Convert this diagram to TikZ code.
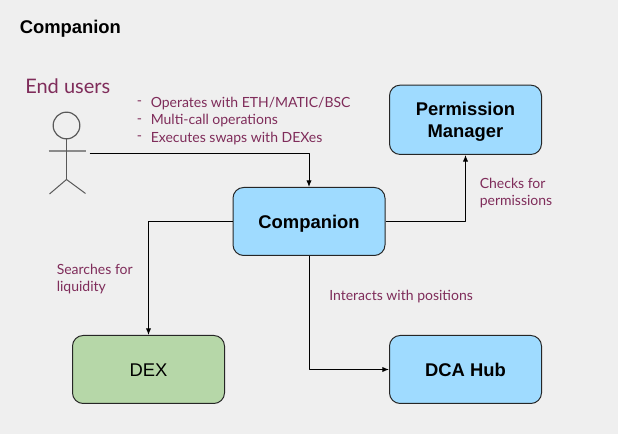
\documentclass[tikz,border=0pt]{standalone}
\usepackage{fontspec}
\setmainfont{Liberation Sans}
\newfontfamily\notefont{Lato}
\usepackage{tikz}
\usetikzlibrary{arrows.meta}
\definecolor{pagegray}{HTML}{EFEFEF}
\definecolor{boxblue}{HTML}{9FDBFF}
\definecolor{boxgreen}{HTML}{B6D7A8}
\definecolor{notecolor}{HTML}{7F2C5A}
\definecolor{figuregray}{HTML}{595959}
\tikzset{
  box/.style={draw=black!85, line width=0.75pt, rounded corners=8pt, minimum width=114pt, minimum height=51pt, inner sep=0pt, align=center, text height=10pt, text depth=0pt, font=\fontsize{13.8}{16.5}\selectfont},
  bluebox/.style={box, fill=boxblue, font=\fontsize{13.8}{16.5}\selectfont\bfseries},
  greenbox/.style={box, fill=boxgreen},
  note/.style={text=notecolor, inner sep=0pt, align=left, font=\notefont\fontsize{10.5}{13.1}\selectfont},
  link/.style={draw=black, line width=0.75pt, -{Latex[length=5pt,width=4pt]}},
}
\begin{document}
\begin{tikzpicture}[x=0.75pt, y=-0.75pt, line join=round]
\fill[pagegray] (0,0) rectangle (618,434);
\useasboundingbox (0,0) rectangle (618,434);
\coordinate (U) at (89.5,153.5);
\coordinate (H) at (66.5,125.5);
\coordinate (N) at (66.5,139);
\coordinate (W) at (66.5,179.5);
% stick figure
\draw[figuregray, line width=0.9pt] (H) circle (10pt);
\draw[figuregray!70, line width=1.2pt] (48.5,151) -- (85.5,151);
\draw[figuregray, line width=0.75pt] (N) -- (W);
\draw[figuregray, line width=0.75pt] (49.5,194) -- (W) -- (85.5,193.5);
% boxes
\node[bluebox] (companion) at (309,221.5) {Companion};
\node[bluebox, minimum height=52pt, text height=26.8pt, text depth=0pt] (manager) at (465.5,119.8) {Permission\\Manager};
\node[greenbox] (dex) at (148.5,369.5) {DEX};
\node[bluebox] (hub) at (465.5,369.5) {DCA Hub};
% links
\draw[link] (U) -| (companion.north);
\draw[link] (companion.west) -| (dex.north);
\draw[link] (companion.east) -| (manager.south);
\draw[link] (companion.south) |- (hub.west);
% texts
\node[anchor=west, inner sep=0pt, font=\fontsize{13.8}{16}\selectfont\bfseries] (title) at (19.5,29) {Companion};
\node[note, anchor=west, font=\notefont\fontsize{15}{18}\selectfont] (users) at (25,86) {End users};
\node[note, anchor=west] (dasha) at (136.5,103.5) {-};
\node[note, anchor=west] (dashb) at (136.5,121) {-};
\node[note, anchor=west] (dashc) at (136.5,138.5) {-};
\node[note, anchor=west] (opa) at (150.5,103.5) {Operates with ETH/MATIC/BSC};
\node[note, anchor=west] (opb) at (150.5,121) {Multi-call operations};
\node[note, anchor=west] (opc) at (150.5,138.5) {Executes swaps with DEXes};
\node[note, anchor=west] (checks) at (479.5,193) {Checks for\\permissions};
\node[note, anchor=west] (searches) at (56.5,279) {Searches for\\liquidity};
\node[note, anchor=west] (interacts) at (329,297) {Interacts with positions};
\end{tikzpicture}
\end{document}
